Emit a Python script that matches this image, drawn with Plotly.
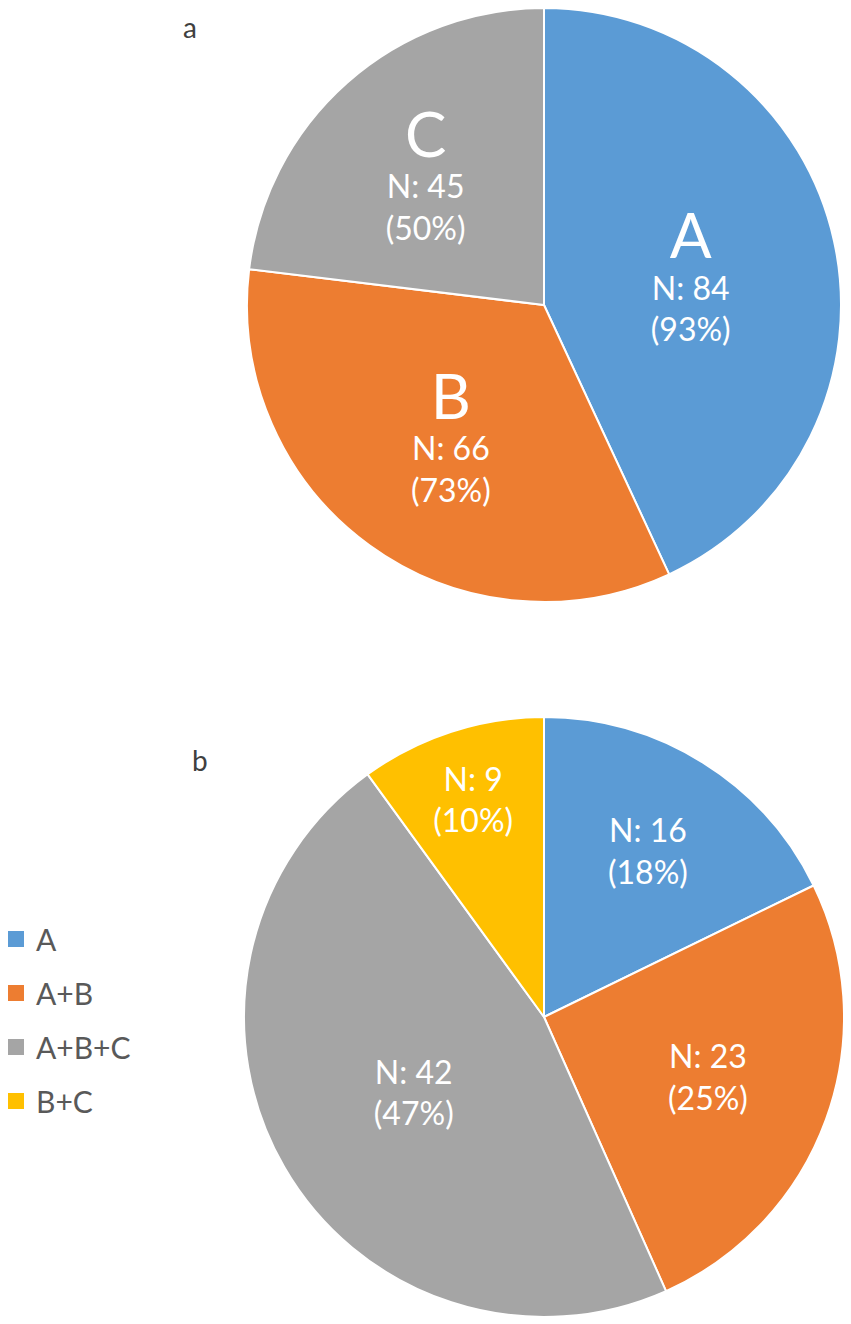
import plotly.graph_objects as go

# panel a: patients per group
groups_a = ["A", "B", "C"]
n_a = [84, 66, 45]
pct_a = ["93%", "73%", "50%"]

# panel b: combinations
groups_b = ["A", "A+B", "A+B+C", "B+C"]
n_b = [16, 23, 42, 9]
pct_b = ["18%", "25%", "47%", "10%"]

colors_a = ["#5B9BD5", "#ED7D31", "#A5A5A5"]
colors_b = ["#5B9BD5", "#ED7D31", "#A5A5A5", "#FFC000"]

FONT = "Lato"
W, H = 851, 1324
OFF = 8  # page body margin in the browser


def px_x(s):
    return (s - OFF) / W


def px_y(s):
    return 1 - (s - OFF) / H


text_a = [f"<span style='font-size:62px'>{g}</span><br>N: {n}<br>({p})"
          for g, n, p in zip(groups_a, n_a, pct_a)]
text_b = [f"N: {n}<br>({p})" for n, p in zip(n_b, pct_b)]

fig = go.Figure()

fig.add_trace(go.Pie(
    labels=groups_a, values=n_a, text=text_a,
    textinfo="text", textposition="inside", insidetextorientation="horizontal",
    sort=False, direction="clockwise", rotation=0,
    marker=dict(colors=colors_a, line=dict(color="white", width=2)),
    textfont=dict(family=FONT, size=32, color="white"),
    domain=dict(x=[px_x(247), px_x(841)], y=[px_y(602), px_y(8)]),
    showlegend=False, hoverinfo="label+value",
))

fig.add_trace(go.Pie(
    labels=groups_b, values=n_b, text=text_b,
    textinfo="text", textposition="inside", insidetextorientation="horizontal",
    sort=False, direction="clockwise", rotation=0,
    marker=dict(colors=colors_b, line=dict(color="white", width=2)),
    textfont=dict(family=FONT, size=32, color="white"),
    domain=dict(x=[px_x(244), px_x(844)], y=[px_y(1317), px_y(717)]),
    showlegend=False, hoverinfo="label+value",
))

# legend entries for panel b
for g, c in zip(groups_b, colors_b):
    fig.add_trace(go.Scatter(
        x=[None], y=[None], mode="markers", name=g, legendgroup=g,
        marker=dict(symbol="square", size=16, color=c),
        showlegend=True, hoverinfo="skip",
    ))

fig.add_annotation(text="a", x=px_x(190), y=1, xref="paper", yref="paper",
                   xanchor="center", yanchor="top", showarrow=False,
                   font=dict(family=FONT, size=28, color="#404040"))
fig.add_annotation(text="b", x=px_x(200), y=px_y(760), xref="paper", yref="paper",
                   xanchor="center", yanchor="middle", showarrow=False,
                   font=dict(family=FONT, size=28, color="#404040"))

fig.update_layout(
    width=W, height=H,
    margin=dict(l=0, r=0, t=0, b=0),
    paper_bgcolor="white", plot_bgcolor="white",
    xaxis=dict(visible=False), yaxis=dict(visible=False),
    legend=dict(x=0, y=px_y(1020), xanchor="left", yanchor="middle",
                font=dict(family=FONT, size=30, color="#595959"),
                itemwidth=30, tracegroupgap=12, indentation=-12,
                bgcolor="rgba(0,0,0,0)"),
    uniformtext=dict(minsize=20, mode="show"),
)

fig.write_html("out.html")
